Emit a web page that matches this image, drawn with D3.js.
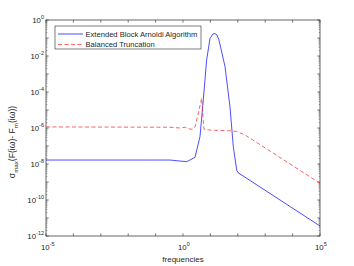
<!DOCTYPE html>
<html>
<head>
<meta charset="utf-8">
<script src="https://cdn.jsdelivr.net/npm/d3@7"></script>
<style>
  body { margin: 0; background: #fff; }
  text { font-family: "Liberation Sans", Arial, sans-serif; fill: #262626; }
</style>
</head>
<body>
<div id="chart"></div>
<script>
// frequencies (x) and error values for each method
const arnoldiFreq = [1e-5, 0.063, 0.336, 1.36, 2.74, 4.17, 5.5, 7.3, 9.67, 12.4, 14.7, 17.4, 20.6, 34.1, 51.9, 68.5, 91.2, 101.6, 1e5];
const arnoldiErr = [1.66e-8, 1.66e-8, 1.66e-8, 1.34e-8, 2.35e-8, 3.3e-7, 3.6e-5, 6e-3, 0.096, 0.167, 0.178, 0.147, 0.077, 2.6e-3, 1.5e-5, 9.1e-8, 4.6e-9, 3.3e-9, 3.6e-12];

const btFreq = [1e-5, 0.336, 0.78, 1.18, 1.8, 2.3, 2.74, 3.5, 4.8, 5.8, 9.67, 22.4, 51.9, 91, 183, 1e5];
const btErr = [1.15e-6, 1.1e-6, 1.0e-6, 1.1e-6, 8.7e-7, 8.6e-7, 1.15e-6, 5.3e-6, 4.5e-5, 8.6e-7, 7.7e-7, 7.3e-7, 7e-7, 6.4e-7, 4.1e-7, 8.5e-10];

const xTickExp = [-5, 0, 5];
const yTickExp = [0, -2, -4, -6, -8, -10, -12];
const seriesNames = ['Extended Block Arnoldi Algorithm', 'Balanced Truncation'];

const width = 354, height = 266;
const margin = {left: 46, right: 34, top: 20, bottom: 30};

const svg = d3.select('#chart').append('svg')
    .attr('width', width)
    .attr('height', height);

const x = d3.scaleLog().domain([1e-5, 1e5]).range([margin.left, width - margin.right]);
const y = d3.scaleLog().domain([1e-12, 1]).range([height - margin.bottom, margin.top]);

const x0 = x.range()[0], x1 = x.range()[1];
const y0 = y.range()[0], y1 = y.range()[1];

// ticks, inward on all four sides
const tickG = svg.append('g').attr('stroke', '#262626').attr('stroke-width', 0.6);
for (let e = -5; e <= 5; e++) {
    const px = x(Math.pow(10, e));
    tickG.append('line').attr('x1', px).attr('x2', px).attr('y1', y0).attr('y2', y0 - 2.7);
    tickG.append('line').attr('x1', px).attr('x2', px).attr('y1', y1).attr('y2', y1 + 2.7);
}
for (let e = -12; e <= 0; e++) {
    const py = y(Math.pow(10, e));
    tickG.append('line').attr('x1', x0).attr('x2', x0 + 2.7).attr('y1', py).attr('y2', py);
    tickG.append('line').attr('x1', x1).attr('x2', x1 - 2.7).attr('y1', py).attr('y2', py);
    if (e < 0) {
        for (let m = 2; m <= 9; m++) {
            const pm = y(m * Math.pow(10, e));
            tickG.append('line').attr('x1', x0).attr('x2', x0 + 1.5).attr('y1', pm).attr('y2', pm)
                .attr('stroke', '#888');
            tickG.append('line').attr('x1', x1).attr('x2', x1 - 1.5).attr('y1', pm).attr('y2', pm)
                .attr('stroke', '#888');
        }
    }
}

// box
svg.append('rect')
    .attr('x', x0).attr('y', y1)
    .attr('width', x1 - x0).attr('height', y0 - y1)
    .attr('fill', 'none').attr('stroke', '#262626').attr('stroke-width', 0.7);

function powLabel(sel, e) {
    sel.append('tspan').attr('font-size', 7.8).text('10');
    sel.append('tspan').attr('font-size', 5.5).attr('dy', -3.8).text(String(e));
}

xTickExp.forEach(function (e) {
    const t = svg.append('text')
        .attr('x', x(Math.pow(10, e)) - 5)
        .attr('y', y0 + 14);
    powLabel(t, e);
});

yTickExp.forEach(function (e) {
    const t = svg.append('text')
        .attr('x', x0 - 2)
        .attr('y', y(Math.pow(10, e)) + 3)
        .attr('text-anchor', 'end');
    powLabel(t, e);
});

// axis labels
svg.append('text')
    .attr('x', (x0 + x1) / 2)
    .attr('y', 262)
    .attr('text-anchor', 'middle')
    .attr('font-size', 8)
    .text('frequencies');

const yl = svg.append('text')
    .attr('transform', 'translate(15,' + 142 + ') rotate(-90)')
    .attr('text-anchor', 'middle')
    .attr('font-size', 8.6);
yl.append('tspan').text('\u03c3');
yl.append('tspan').attr('font-size', 6.2).attr('dy', 2.8).text('max');
yl.append('tspan').attr('dy', -2.8).text('(F(i\u03c9)- F');
yl.append('tspan').attr('font-size', 6.2).attr('dy', 2.8).text('m');
yl.append('tspan').attr('dy', -2.8).text('(i\u03c9))');

// lines
const line = d3.line()
    .x(function (d) { return x(d[0]); })
    .y(function (d) { return y(d[1]); });

svg.append('path')
    .datum(d3.zip(arnoldiFreq, arnoldiErr))
    .attr('fill', 'none')
    .attr('stroke', '#0000ff')
    .attr('stroke-width', 0.7)
    .attr('d', line);

svg.append('path')
    .datum(d3.zip(btFreq, btErr))
    .attr('fill', 'none')
    .attr('stroke', '#ff2020')
    .attr('stroke-width', 0.7)
    .attr('stroke-dasharray', '4,2.5')
    .attr('d', line);

// legend
const lg = svg.append('g');
lg.append('rect')
    .attr('x', 55).attr('y', 26).attr('width', 146).attr('height', 23)
    .attr('fill', '#fff').attr('stroke', '#262626').attr('stroke-width', 0.6);
const lgColors = ['#0000ff', '#ff2020'];
seriesNames.forEach(function (name, i) {
    const ly = 34 + i * 10.5;
    lg.append('line')
        .attr('x1', 58).attr('x2', 83).attr('y1', ly).attr('y2', ly)
        .attr('stroke', lgColors[i]).attr('stroke-width', 0.7)
        .attr('stroke-dasharray', i === 1 ? '4,2.5' : null);
    lg.append('text')
        .attr('x', 85.5).attr('y', ly + 2.7)
        .attr('font-size', 7.6)
        .text(name);
});
</script>
</body>
</html>
